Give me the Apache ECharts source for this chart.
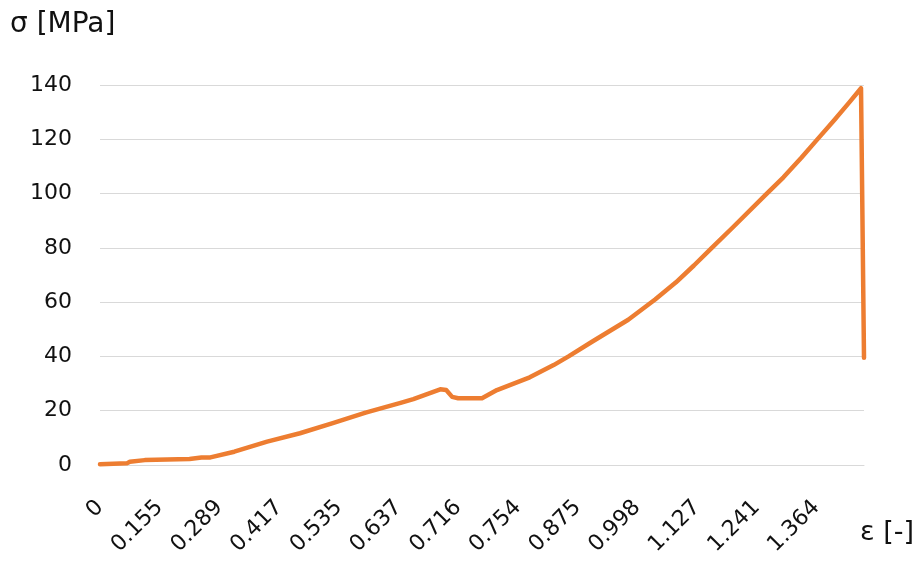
<!DOCTYPE html>
<html>
<head>
<meta charset="utf-8">
<script src="https://cdn.jsdelivr.net/npm/echarts@6/dist/echarts.min.js"></script>
<style>
  html, body { margin: 0; padding: 0; background: #ffffff; }
  #chart { width: 916px; height: 561px; }
</style>
</head>
<body>
<div id="chart"></div>
<script>
// Strain tick labels shown on the category axis (every 20th sample)
const tickLabels = ['0', '0.155', '0.289', '0.417', '0.535', '0.637', '0.716', '0.754', '0.875', '0.998', '1.127', '1.241', '1.364'];
const samplesPerLabel = 20;
const sampleCount = 257;

// Sample index (category position) and stress values
const sampleIndex = [0, 9, 10, 15, 30, 34, 37, 45, 56, 67, 78, 89, 101, 105, 114, 116, 118, 120, 128, 133, 144, 152, 157, 165, 177, 186, 193, 199, 205, 212, 223, 229, 235, 240, 246, 251, 255, 256];
const stress =      [0.3, 0.6, 1.2, 1.8, 2.2, 2.8, 2.8, 4.9, 8.6, 11.7, 15.4, 19.3, 23.0, 24.3, 27.9, 27.6, 25.1, 24.6, 24.6, 27.6, 32.3, 36.8, 40.0, 45.5, 53.5, 61.0, 67.3, 73.5, 80.0, 87.5, 99.5, 106.0, 113.2, 119.5, 127.0, 133.5, 138.8, 39.5];

const categories = Array.from({ length: sampleCount }, (_, i) => String(i));
const seriesData = sampleIndex.map((idx, i) => [idx, stress[i]]);

const FONT = 'DejaVu Sans';
const chart = echarts.init(document.getElementById('chart'), null, { renderer: 'canvas' });
chart.setOption({
  animation: false,
  backgroundColor: '#ffffff',
  grid: { left: 100, right: 52, top: 85, bottom: 96, containLabel: false },
  xAxis: {
    type: 'category',
    data: categories,
    boundaryGap: false,
    axisLine: { show: true, lineStyle: { color: '#d9d9d9', width: 1 } },
    axisTick: { show: false },
    splitLine: { show: false },
    axisLabel: {
      interval: samplesPerLabel - 1,
      rotate: 45,
      margin: 39,
      color: '#111111',
      fontFamily: FONT,
      fontSize: 22,
      formatter: function (value, index) {
        return tickLabels[Math.round(index / samplesPerLabel)];
      }
    }
  },
  yAxis: {
    type: 'value',
    min: 0,
    max: 140,
    interval: 20,
    axisLine: { show: false },
    axisTick: { show: false },
    splitLine: { show: true, lineStyle: { color: '#d9d9d9', width: 1 } },
    axisLabel: { margin: 28, color: '#111111', fontFamily: FONT, fontSize: 22 }
  },
  graphic: [
    { type: 'text', left: 10, top: 11, style: { text: 'σ [MPa]', fill: '#111111', font: '28px "DejaVu Sans"' } },
    { type: 'text', left: 860, top: 519, style: { text: 'ε [-]', fill: '#111111', font: '27px "DejaVu Sans"' } }
  ],
  series: [{
    type: 'line',
    data: seriesData,
    showSymbol: false,
    symbol: 'none',
    smooth: false,
    lineStyle: { color: '#ED7D31', width: 4.5, cap: 'round', join: 'round' }
  }]
});
</script>
</body>
</html>
